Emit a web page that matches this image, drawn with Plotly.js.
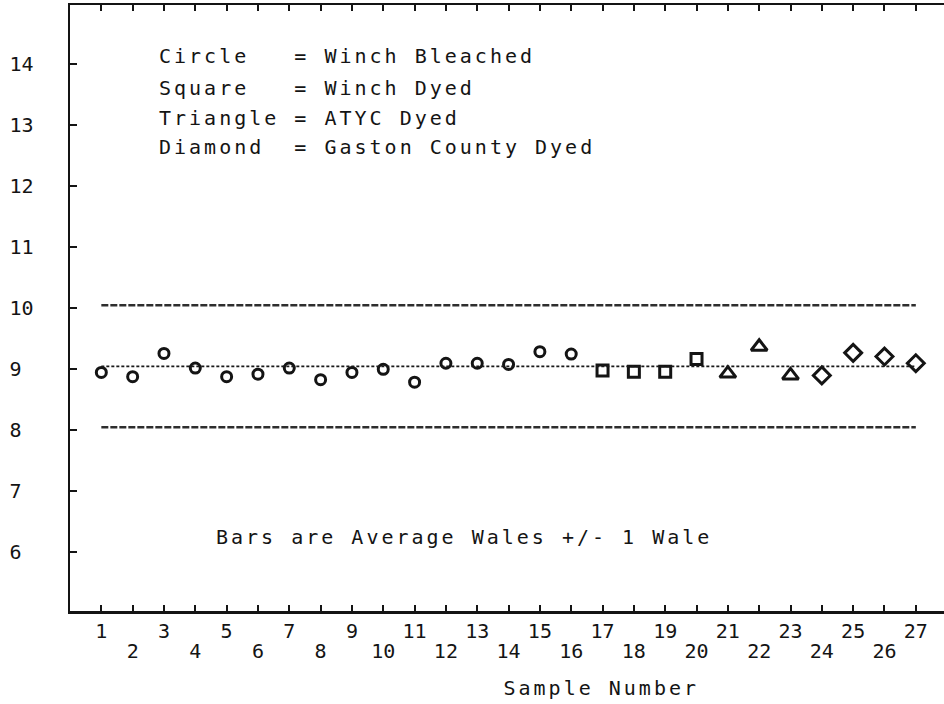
<!DOCTYPE html>
<html>
<head>
<meta charset="utf-8">
<script src="https://cdn.plot.ly/plotly-3.0.1.min.js"></script>
<style>
html, body { margin: 0; padding: 0; background: #ffffff; }
#chart { width: 944px; height: 704px; }
g.annotation text { letter-spacing: 3px; }
</style>
</head>
<body>
<div id="chart"></div>
<script>
// ---- data ----
const samples = [1, 2, 3, 4, 5, 6, 7, 8, 9, 10, 11, 12, 13, 14, 15, 16, 17, 18, 19, 20, 21, 22, 23, 24, 25, 26, 27];
const wales = [8.95, 8.88, 9.26, 9.02, 8.88, 8.92, 9.02, 8.83, 8.95, 9.00, 8.79, 9.10, 9.10, 9.08,
               9.29, 9.25, 8.98, 8.96, 8.96, 9.17, 8.93, 9.37, 8.90, 8.90, 9.27, 9.21, 9.10];
const shapeGroup = ['Circle', 'Circle', 'Circle', 'Circle', 'Circle', 'Circle', 'Circle', 'Circle',
                    'Circle', 'Circle', 'Circle', 'Circle', 'Circle', 'Circle', 'Circle', 'Circle',
                    'Square', 'Square', 'Square', 'Square',
                    'Triangle', 'Triangle', 'Triangle',
                    'Diamond', 'Diamond', 'Diamond', 'Diamond'];
const averageWales = 9.05;
const barOffset = 1;
const yTickValues = [6, 7, 8, 9, 10, 11, 12, 13, 14];
const legendLines = ['Circle   = Winch Bleached', 'Square   = Winch Dyed', 'Triangle = ATYC Dyed', 'Diamond  = Gaston County Dyed'];
const noteText = 'Bars are Average Wales +/- 1 Wale';
const xTitleText = 'Sample Number';

// ---- styling ----
const FONT = 'DejaVu Sans Mono';
const INK = '#141414';
const symbolFor = { Circle: 'circle-open', Square: 'square-open', Triangle: 'triangle-up-open', Diamond: 'diamond-open' };
const sizeFor = { Circle: 10, Square: 11, Triangle: 14, Diamond: 13 };
const nb = s => s.replace(/ /g, '\u00a0');

const W = 944, H = 704, ML = 70, MR = 0, MT = 5, MB = 93;
const PW = W - ML - MR, PH = H - MT - MB;
const px2x = p => (p - ML) / PW;
const px2y = p => 1 - (p - MT) / PH;

const first = samples[0], last = samples[samples.length - 1];
const traces = [
  { x: [first, last], y: [averageWales + barOffset, averageWales + barOffset], mode: 'lines',
    line: { color: '#2e2e2e', width: 2.4, dash: '7px,2px' }, hoverinfo: 'skip' },
  { x: [first, last], y: [averageWales, averageWales], mode: 'lines', xaxis: 'x2',
    line: { color: '#1a1a1a', width: 1.8, dash: '3px,2px' }, hoverinfo: 'skip' },
  { x: [first, last], y: [averageWales - barOffset, averageWales - barOffset], mode: 'lines',
    line: { color: '#2e2e2e', width: 2.4, dash: '7px,2px' }, hoverinfo: 'skip' }
];
['Circle', 'Square', 'Triangle', 'Diamond'].forEach(g => {
  const xs = [], ys = [];
  samples.forEach((s, i) => { if (shapeGroup[i] === g) { xs.push(s); ys.push(wales[i]); } });
  traces.push({ x: xs, y: ys, mode: 'markers', name: g,
    marker: { symbol: symbolFor[g], size: sizeFor[g], color: INK, line: { color: INK, width: 3 } } });
});

const oddText = samples.map(s => (s % 2 === 1 ? String(s) : ''));
const evenVals = samples.filter(s => s % 2 === 0);
const evenText = evenVals.map(String);
const tickFont = { family: FONT, size: 20, color: INK };
const xRange = [0, 27.9];
const yRange = [5.04, 14.97];

const textFont = { family: FONT, size: 20, color: INK };
const annotations = legendLines.map((t, i) => ({
  text: nb(t), xref: 'paper', yref: 'paper', x: px2x(157), y: px2y([56, 88, 118, 147][i]),
  xanchor: 'left', yanchor: 'middle', align: 'left', showarrow: false, font: textFont
}));
annotations.push({ text: nb(noteText), xref: 'paper', yref: 'paper', x: px2x(214), y: px2y(537),
  xanchor: 'left', yanchor: 'middle', align: 'left', showarrow: false, font: textFont });
annotations.push({ text: nb(xTitleText), xref: 'paper', yref: 'paper', x: px2x(601), y: px2y(688),
  xanchor: 'center', yanchor: 'middle', showarrow: false, font: textFont });

const layout = {
  width: W, height: H,
  margin: { l: ML, r: MR, t: MT, b: MB, pad: 0 },
  paper_bgcolor: '#ffffff', plot_bgcolor: '#ffffff',
  showlegend: false,
  font: { family: FONT, color: INK },
  xaxis: {
    range: xRange, tickmode: 'array', tickvals: samples, ticktext: oddText,
    ticks: 'inside', ticklen: 6, tickwidth: 2, tickcolor: INK,
    showline: true, linewidth: 2.5, linecolor: INK, mirror: 'ticks',
    showgrid: false, zeroline: false, tickfont: tickFont, ticklabelstandoff: 0, fixedrange: true
  },
  xaxis2: {
    overlaying: 'x', anchor: 'y', side: 'bottom', range: xRange,
    tickmode: 'array', tickvals: evenVals, ticktext: evenText, ticks: '',
    showline: false, showgrid: false, zeroline: false, tickfont: tickFont, ticklabelstandoff: 26, fixedrange: true
  },
  yaxis: {
    range: yRange, tickmode: 'array', tickvals: yTickValues,
    ticktext: yTickValues.map(v => (v < 10 ? v + '\u00a0' : String(v))),
    ticks: 'inside', ticklen: 7, tickwidth: 2, tickcolor: INK,
    showline: true, linewidth: 2.5, linecolor: INK, mirror: false,
    showgrid: false, zeroline: false, tickfont: tickFont, ticklabelstandoff: 30, fixedrange: true
  },
  yaxis2: {
    overlaying: 'y', anchor: 'x', side: 'right', range: yRange,
    tickmode: 'array', tickvals: yTickValues, ticks: 'inside', ticklen: 8, tickwidth: 2, tickcolor: INK,
    showticklabels: false, showline: false, showgrid: false, zeroline: false, fixedrange: true
  },
  annotations: annotations
};

Plotly.newPlot('chart', traces, layout, { displayModeBar: false, staticPlot: true });
</script>
</body>
</html>
